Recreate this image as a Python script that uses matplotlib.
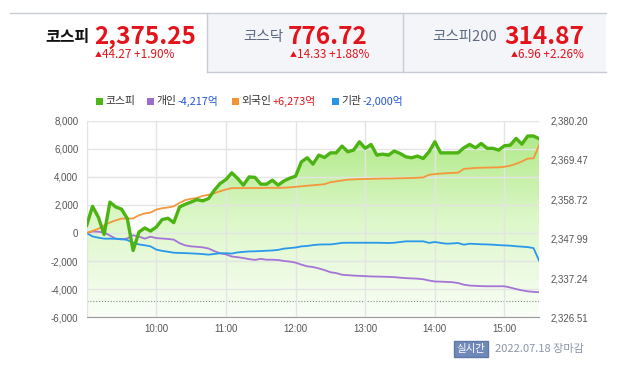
import matplotlib
matplotlib.use("Agg")
import matplotlib.pyplot as plt
import numpy as np
from matplotlib.colors import LinearSegmentedColormap
from matplotlib.patches import Rectangle
from matplotlib.lines import Line2D

plt.rcParams['font.family'] = ['Noto Sans CJK KR', 'DejaVu Sans']

# minutes after 9:00, 5-minute steps
minutes = list(range(0, 391, 5))

kospi = [2351.63, 2356.81, 2353.89, 2349.14, 2357.96, 2356.65, 2356.04, 2353.47, 2344.76, 2349.79,
         2350.90, 2350.06, 2351.17, 2353.20, 2353.55, 2352.36, 2356.65, 2357.38, 2358.00, 2358.65,
         2358.30, 2358.95, 2361.22, 2363.06, 2364.13, 2365.97, 2364.44, 2362.60, 2364.86, 2364.71,
         2362.87, 2362.87, 2363.94, 2362.60, 2363.75, 2364.51, 2365.05, 2368.96, 2370.08, 2368.35,
         2370.80, 2370.15, 2371.42, 2371.42, 2373.26, 2371.72, 2372.18, 2374.45, 2372.65, 2373.72,
         2370.80, 2371.07, 2370.80, 2371.92, 2371.26, 2370.34, 2370.08, 2370.54, 2369.88, 2371.72,
         2374.45, 2371.42, 2371.42, 2371.42, 2371.42, 2372.80, 2373.72, 2372.80, 2373.99, 2372.65,
         2372.65, 2372.18, 2373.37, 2373.53, 2375.37, 2373.80, 2376.02, 2376.02, 2375.25]

# 억 원 net buying
individual = [0, 110, 90, 50, -180, -400, -460, -380, -160, -250,
              -400, -260, -360, -390, -420, -470, -720, -880, -950, -980,
              -1020, -1100, -1290, -1440, -1520, -1670, -1720, -1780, -1860, -1910,
              -1840, -1900, -1900, -1920, -1990, -2030, -2110, -2250, -2370, -2420,
              -2520, -2640, -2790, -2850, -2970, -3000, -3030, -3050, -3070, -3090,
              -3100, -3110, -3120, -3140, -3180, -3210, -3230, -3250, -3290, -3380,
              -3450, -3460, -3480, -3500, -3560, -3680, -3740, -3760, -3780, -3790,
              -3790, -3790, -3790, -3880, -3990, -4080, -4150, -4190, -4217]

foreign = [0, 150, 300, 550, 750, 900, 1030, 1030, 1040, 1260,
           1400, 1460, 1670, 1770, 1820, 1900, 2150, 2350, 2440, 2500,
           2650, 2720, 2840, 2980, 3100, 3200, 3200, 3200, 3210, 3210,
           3200, 3220, 3220, 3210, 3230, 3250, 3290, 3330, 3370, 3400,
           3440, 3480, 3620, 3680, 3740, 3800, 3820, 3840, 3850, 3860,
           3870, 3880, 3880, 3890, 3900, 3910, 3920, 3940, 3960, 4150,
           4200, 4230, 4260, 4280, 4300, 4570, 4600, 4640, 4650, 4660,
           4670, 4680, 4720, 4800, 4930, 5100, 5300, 5320, 6273]

institution = [0, -240, -330, -400, -400, -410, -420, -500, -680, -810,
               -870, -950, -1180, -1270, -1330, -1400, -1420, -1430, -1450, -1470,
               -1500, -1540, -1490, -1440, -1440, -1460, -1380, -1340, -1310, -1300,
               -1280, -1260, -1240, -1200, -1110, -1070, -1030, -950, -920, -860,
               -820, -810, -810, -760, -700, -690, -690, -690, -690, -690,
               -690, -700, -710, -690, -640, -590, -590, -590, -590, -700,
               -640, -700, -760, -740, -710, -830, -760, -780, -800, -810,
               -830, -860, -880, -900, -940, -970, -1000, -1070, -2000]

prev_close = 2330.98
left_ticks = [-6000, -4000, -2000, 0, 2000, 4000, 6000, 8000]
right_ticks = [2326.51, 2337.24, 2347.99, 2358.72, 2369.47, 2380.20]
hour_ticks = [0, 60, 120, 180, 240, 300, 360]
hour_labels = ['', '10:00', '11:00', '12:00', '13:00', '14:00', '15:00']

tabs = ['코스피', '코스닥', '코스피200']
tab_values = ['2,375.25', '776.72', '314.87']
tab_changes = ['44.27 +1.90%', '14.33 +1.88%', '6.96 +2.26%']

W, H = 624, 378
fig = plt.figure(figsize=(W / 100, H / 100), dpi=100)


def fx(x):
    return x / W


def fy(y):
    return 1 - y / H


# header tabs
fig.add_artist(Rectangle((fx(207), fy(72)), fx(606 - 207), (72 - 13) / H,
                         transform=fig.transFigure, facecolor='#f4f5f9', edgecolor='none'))
fig.add_artist(Line2D([fx(10), fx(606)], [fy(13), fy(13)], transform=fig.transFigure,
                      color='#c9ccd4', lw=1))
fig.add_artist(Line2D([fx(207), fx(606)], [fy(72), fy(72)], transform=fig.transFigure,
                      color='#c9ccd4', lw=1))
for xb in [207, 403]:
    fig.add_artist(Line2D([fx(xb), fx(xb)], [fy(13), fy(72)], transform=fig.transFigure,
                          color='#c9ccd4', lw=1))

name_x = [90, 283, 497]
val_x = [94, 288, 504]
chg_x = [95, 290, 511]
for i in range(3):
    fig.text(fx(name_x[i]), fy(37), tabs[i], ha='right', va='center',
             fontsize=11.5 if i == 0 else 10.5,
             fontweight='bold' if i == 0 else 'normal',
             color='#111111' if i == 0 else '#5d6a80')
    fig.text(fx(val_x[i]), fy(37), tab_values[i], ha='left', va='center',
             fontsize=17.5, fontweight='bold', color='#e3131b')
    fig.text(fx(chg_x[i]), fy(55.5), '▲', ha='left', va='center', fontsize=5, color='#e3131b')
    fig.text(fx(chg_x[i] + 7), fy(54), tab_changes[i], ha='left', va='center',
             fontsize=8.5, color='#e3131b')

# legend
leg_items = [('코스피', '', '#4cb71a', None),
             ('개인', '-4,217억', '#9b6bd0', '#2456d8'),
             ('외국인', '+6,273억', '#f39237', '#e3131b'),
             ('기관', '-2,000억', '#2a95e6', '#2456d8')]
leg_x = [96, 147, 232, 332]
fig.canvas.draw()
for (name, val, col, vcol), lx in zip(leg_items, leg_x):
    fig.add_artist(Rectangle((fx(lx), fy(105)), 7 / W, 7 / H, transform=fig.transFigure,
                             facecolor=col, edgecolor='none'))
    t = fig.text(fx(lx + 9), fy(101), name, ha='left', va='center', fontsize=7.8, color='#333333')
    if val:
        bb = t.get_window_extent(renderer=fig.canvas.get_renderer())
        fig.text(bb.x1 / W + 2 / W, fy(101), val, ha='left', va='center', fontsize=7.8, color=vcol)

# chart
ax = fig.add_axes([fx(86.7), fy(317.3), fx(539.3 - 86.7), (317.3 - 120.7) / H])
axl = ax.twinx()
ax.yaxis.tick_right()
axl.yaxis.tick_left()

ymin, ymax = right_ticks[0], right_ticks[-1]
poly = ax.fill_between(minutes, kospi, ymin, facecolor='none', edgecolor='none')
cmap = LinearSegmentedColormap.from_list('g', ['#fafef7', '#dcf7c8', '#a9e77d'])
grad = np.linspace(0, 1, 256).reshape(-1, 1)
im = ax.imshow(grad, extent=[0, 390, ymin, ymax], origin='lower', aspect='auto', cmap=cmap, zorder=1)
im.set_clip_path(poly.get_paths()[0], transform=ax.transData)
ax.axhline(prev_close, color='#8a8a8a', lw=0.8, ls=(0, (1, 1.6)), zorder=2)

ax.set_xlim(0, 390)
ax.set_ylim(ymin, ymax)
axl.set_ylim(-6000, 8000)

ax.set_axisbelow(False)
ax.grid(axis='x', color='#e4e4e4', lw=1, zorder=2.5)
axl.set_axisbelow(True)
axl.grid(axis='y', color='#e4e4e4', lw=1)

axl.plot(minutes, individual, color='#a574d6', lw=1.3, zorder=3)
axl.plot(minutes, institution, color='#2a98ea', lw=1.3, zorder=3)
axl.plot(minutes, foreign, color='#f5963c', lw=1.3, zorder=3)
axl.plot(minutes, kospi, color='#4cb412', lw=2.4, zorder=4, transform=ax.transData)

ax.set_xticks(hour_ticks)
ax.set_xticklabels(hour_labels)
ax.set_yticks(right_ticks)
ax.set_yticklabels(['{:,.2f}'.format(v) for v in right_ticks])
axl.set_yticks(left_ticks)
axl.set_yticklabels(['{:,}'.format(v) for v in left_ticks])

for a in (ax, axl):
    for s in a.spines.values():
        s.set_visible(False)
ax.spines['bottom'].set_visible(True)
ax.spines['bottom'].set_color('#9a9a9a')
ax.tick_params(axis='x', length=0, pad=5, labelsize=7, labelcolor='#555555')
ax.tick_params(axis='y', length=0, pad=8, labelsize=7, labelcolor='#555555')
axl.tick_params(axis='y', length=0, pad=6, labelsize=7, labelcolor='#555555')
for lab in ax.get_xticklabels() + ax.get_yticklabels() + axl.get_yticklabels():
    lab.set_fontfamily(['Liberation Sans', 'DejaVu Sans'])

# footer
fig.text(fx(471), fy(349), '실시간', ha='center', va='center', fontsize=7.5, color='white',
         bbox=dict(boxstyle='square,pad=0.25', facecolor='#7089b9', edgecolor='#5f78a8'))
fig.text(fx(495), fy(349), '2022.07.18 장마감', ha='left', va='center', fontsize=8, color='#8b95a8')

fig.savefig('out.png', dpi=100)
